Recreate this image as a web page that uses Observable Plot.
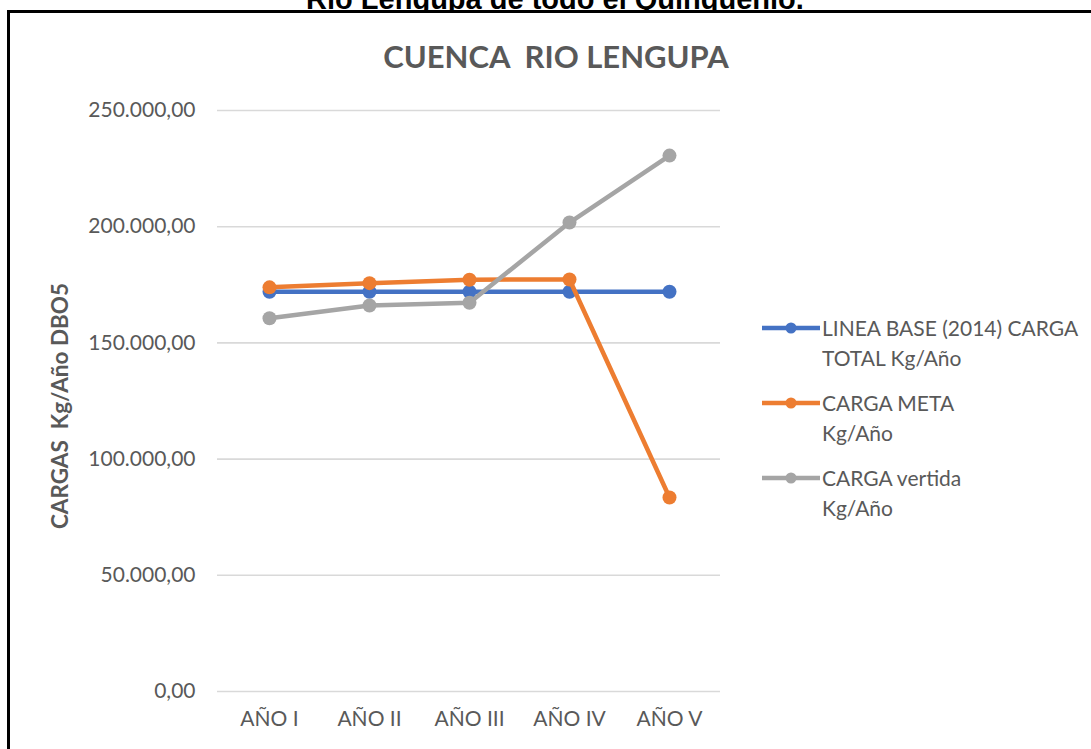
<!DOCTYPE html>
<html>
<head>
<meta charset="utf-8">
<script src="https://cdn.jsdelivr.net/npm/d3@7"></script>
<script src="https://cdn.jsdelivr.net/npm/@observablehq/plot@0.6"></script>
<style>
  html, body { margin: 0; padding: 0; background: #fff; }
  #page { position: relative; width: 1091px; height: 749px; overflow: hidden; background: #fff; }
  #cuttitle { position: absolute; left: 0; width: 1110px; top: -15px; text-align: center;
    font-family: "Liberation Sans", Arial, sans-serif; font-weight: bold; font-size: 29px; color: #000; line-height: 29px; z-index: 0; }
  #frame { position: absolute; left: 7px; top: 10px; width: 2000px; height: 2000px; border: 3px solid #000; background: #fff; z-index: 1; }
  #chart { position: absolute; left: 0; top: 0; z-index: 2; }
  #title { position: absolute; left: 0; width: 1112px; top: 38px; text-align: center; z-index: 3;
    font-family: Lato, sans-serif; font-weight: bold; font-size: 31px; color: #595959; line-height: 36px; }
  #ylabel { position: absolute; left: 59px; top: 406px; z-index: 3; transform: translate(-50%, -50%) rotate(-90deg);
    white-space: pre; font-family: Lato, sans-serif; font-weight: bold; font-size: 22.5px; color: #595959; }
  #legend { position: absolute; left: 762px; top: 313px; z-index: 3; font-family: Lato, sans-serif; font-size: 21px; color: #595959; }
  .item { position: relative; height: 75px; }
  .item svg { position: absolute; left: 0; top: 6px; }
  .item div { position: absolute; left: 60px; top: 0; line-height: 30px; white-space: nowrap; }
</style>
</head>
<body>
<div id="page">
  <div id="cuttitle">Rio Lengupa de todo el Quinquenio.</div>
  <div id="frame"></div>
  <div id="chart"></div>
  <div id="title">CUENCA&nbsp; RIO LENGUPA</div>
  <div id="ylabel">CARGAS  Kg/Año DBO5</div>
  <div id="legend"></div>
</div>
<script>
const categories = ["AÑO I", "AÑO II", "AÑO III", "AÑO IV", "AÑO V"];
const lineaBase = [172000, 172000, 172000, 172000, 172000];
const cargaMeta = [173900, 175700, 177200, 177300, 83500];
const cargaVertida = [160600, 166100, 167300, 201800, 230600];
const yTicks = [0, 50000, 100000, 150000, 200000, 250000];
const seriesNames = ["LINEA BASE (2014) CARGA\nTOTAL Kg/Año", "CARGA META\nKg/Año", "CARGA vertida\nKg/Año"];
const seriesColors = ["#4472C4", "#ED7D31", "#A5A5A5"];

const seriesValues = [lineaBase, cargaMeta, cargaVertida];
const data = [];
seriesValues.forEach((vals, s) => vals.forEach((v, i) => data.push({series: s, cat: categories[i], value: v})));

const loc = d3.formatLocale({decimal: ",", thousands: ".", grouping: [3], currency: ["", ""]});
const fmt = loc.format(",.2f");

const marks = [
  Plot.gridY({ticks: yTicks, stroke: "#D9D9D9", strokeOpacity: 1, strokeWidth: 1.6}),
  Plot.axisY({ticks: yTicks, tickFormat: fmt, tickSize: 0, tickPadding: 22, label: null, fill: "#595959"}),
  Plot.axisX({tickSize: 0, tickPadding: 20, label: null, fill: "#595959"})
];
seriesValues.forEach((vals, s) => {
  const d = data.filter(r => r.series === s);
  marks.push(Plot.line(d, {x: "cat", y: "value", stroke: seriesColors[s], strokeWidth: 4.5}));
  marks.push(Plot.dot(d, {x: "cat", y: "value", fill: seriesColors[s], r: 7, stroke: "none"}));
});

const chart = Plot.plot({
  width: 1091,
  height: 749,
  marginLeft: 217,
  marginRight: 371,
  marginTop: 110,
  marginBottom: 58,
  style: {fontFamily: "Lato, sans-serif", fontSize: "21px", color: "#595959", background: "transparent"},
  x: {type: "point", domain: categories, padding: 0.5},
  y: {domain: [0, 250000]},
  marks
});
document.getElementById("chart").appendChild(chart);

const legend = document.getElementById("legend");
seriesNames.forEach((name, s) => {
  const item = document.createElement("div");
  item.className = "item";
  item.innerHTML = `<svg width="58" height="18"><line x1="0" x2="58" y1="9" y2="9" stroke="${seriesColors[s]}" stroke-width="4.5"/><circle cx="29" cy="9" r="5.5" fill="${seriesColors[s]}"/></svg>`;
  const t = document.createElement("div");
  t.innerHTML = name.split("\n").join("<br>");
  item.appendChild(t);
  legend.appendChild(item);
});
</script>
</body>
</html>
